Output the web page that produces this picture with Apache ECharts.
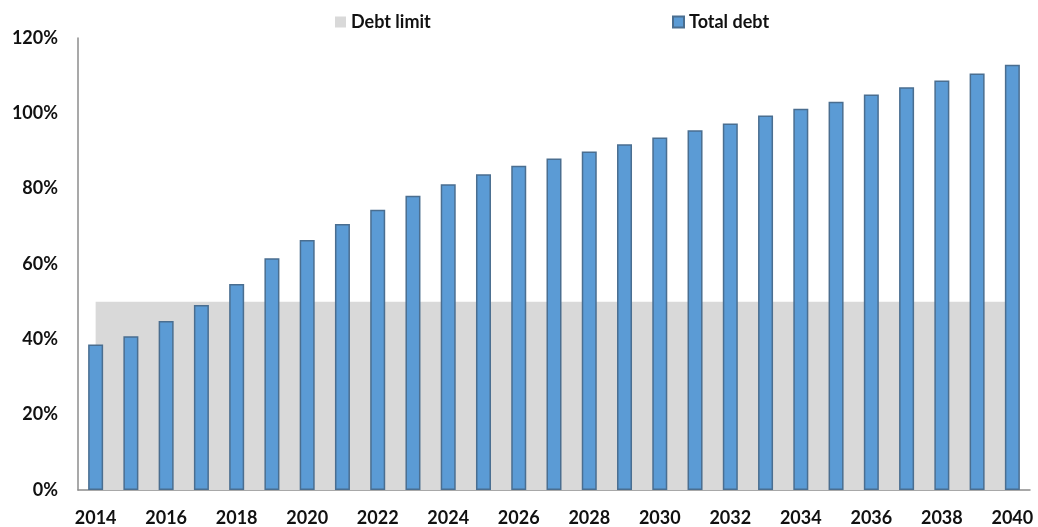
<!DOCTYPE html>
<html>
<head>
<meta charset="utf-8">
<script src="https://cdn.jsdelivr.net/npm/echarts@6/dist/echarts.min.js"></script>
<style>
  html, body { margin: 0; padding: 0; background: #ffffff; }
  #chart { width: 1038px; height: 527px; }
</style>
</head>
<body>
<div id="chart"></div>
<script>
// Years on the category axis
const years = ['2014','2015','2016','2017','2018','2019','2020','2021','2022','2023','2024','2025','2026',
  '2027','2028','2029','2030','2031','2032','2033','2034','2035','2036','2037','2038','2039','2040'];

// Total debt, % of GDP
const totalDebt = [38.6, 40.8, 44.9, 49.1, 54.7, 61.5, 66.4, 70.6, 74.4, 78.1, 81.2, 83.8, 86.1,
  88.0, 89.9, 91.8, 93.6, 95.5, 97.3, 99.4, 101.2, 103.1, 105.0, 106.9, 108.7, 110.6, 112.9];

// Debt limit, % of GDP
const debtLimit = [50, 50, 50, 50, 50, 50, 50, 50, 50, 50, 50, 50, 50,
  50, 50, 50, 50, 50, 50, 50, 50, 50, 50, 50, 50, 50, 50];

const textColor = '#111111';
const font = 'Lato, "Open Sans", sans-serif';

const chart = echarts.init(document.getElementById('chart'));
chart.setOption({
  animation: false,
  backgroundColor: '#ffffff',
  grid: { left: 78, right: 8, top: 38, bottom: 35.5, containLabel: false },
  legend: [
    {
      data: [{ name: 'Debt limit', icon: 'rect' }],
      left: 330, top: 8,
      itemWidth: 11, itemHeight: 11, itemGap: 6,
      textStyle: { color: textColor, fontSize: 18, fontWeight: 'bold', fontFamily: font }
    },
    {
      data: [{ name: 'Total debt', icon: 'rect' }],
      left: 667, top: 8,
      itemWidth: 11, itemHeight: 11, itemGap: 6,
      textStyle: { color: textColor, fontSize: 18, fontWeight: 'bold', fontFamily: font }
    }
  ],
  xAxis: {
    type: 'category',
    data: years,
    boundaryGap: true,
    axisLine: { show: true, lineStyle: { color: '#8c8c8c', width: 1.5 } },
    axisTick: { show: false },
    axisLabel: {
      interval: 1,
      margin: 19,
      color: textColor,
      fontSize: 18,
      fontWeight: 'bold',
      fontFamily: font
    },
    splitLine: { show: false }
  },
  yAxis: {
    type: 'value',
    min: 0, max: 120, interval: 20,
    axisLine: { show: true, lineStyle: { color: '#8c8c8c', width: 1.5 } },
    axisTick: { show: false },
    splitLine: { show: false },
    axisLabel: {
      formatter: '{value}%',
      margin: 20,
      color: textColor,
      fontSize: 18,
      fontWeight: 'bold',
      fontFamily: font
    }
  },
  series: [
    {
      name: 'Debt limit',
      type: 'line',
      data: debtLimit,
      symbol: 'none',
      lineStyle: { width: 0 },
      itemStyle: { color: '#d9d9d9' },
      areaStyle: { color: '#d9d9d9', opacity: 1 },
      z: 1
    },
    {
      name: 'Total debt',
      type: 'bar',
      data: totalDebt,
      barWidth: 15,
      itemStyle: { color: '#5b9bd5', borderColor: '#4a6e90', borderWidth: 1.5 },
      z: 3
    }
  ]
});
</script>
</body>
</html>
